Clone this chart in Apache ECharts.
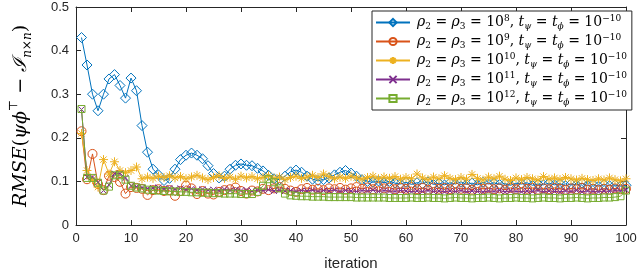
<!DOCTYPE html>
<html><head><meta charset="utf-8">
<script src="https://cdn.jsdelivr.net/npm/echarts@6/dist/echarts.min.js"></script>
<style>html,body{margin:0;padding:0;background:#fff}#c{width:640px;height:276px}</style>
</head><body><div id="c"></div>
<script>
const iterations = [1,2,3,4,5,6,7,8,9,10,11,12,13,14,15,16,17,18,19,20,21,22,23,24,25,26,27,28,29,30,31,32,33,34,35,36,37,38,39,40,41,42,43,44,45,46,47,48,49,50,51,52,53,54,55,56,57,58,59,60,61,62,63,64,65,66,67,68,69,70,71,72,73,74,75,76,77,78,79,80,81,82,83,84,85,86,87,88,89,90,91,92,93,94,95,96,97,98,99,100];
const rho1e8 = [0.430,0.367,0.300,0.262,0.300,0.335,0.345,0.320,0.291,0.337,0.308,0.228,0.167,0.128,0.115,0.102,0.107,0.128,0.150,0.160,0.165,0.160,0.152,0.136,0.118,0.108,0.112,0.128,0.137,0.140,0.137,0.136,0.130,0.124,0.114,0.106,0.104,0.112,0.122,0.126,0.121,0.112,0.105,0.102,0.104,0.108,0.115,0.121,0.125,0.119,0.112,0.104,0.100,0.098,0.101,0.097,0.100,0.096,0.094,0.098,0.093,0.097,0.095,0.099,0.093,0.096,0.092,0.097,0.094,0.099,0.093,0.096,0.092,0.098,0.094,0.097,0.093,0.095,0.091,0.096,0.094,0.097,0.091,0.094,0.092,0.096,0.092,0.095,0.090,0.094,0.092,0.096,0.090,0.093,0.089,0.093,0.090,0.092,0.089,0.091];
const rho1e9 = [0.215,0.105,0.163,0.094,0.080,0.113,0.110,0.099,0.072,0.087,0.085,0.083,0.069,0.080,0.082,0.078,0.080,0.067,0.078,0.090,0.084,0.071,0.078,0.072,0.070,0.076,0.080,0.082,0.086,0.078,0.072,0.079,0.077,0.083,0.080,0.084,0.087,0.083,0.079,0.076,0.082,0.085,0.081,0.083,0.080,0.084,0.082,0.085,0.081,0.084,0.087,0.083,0.086,0.082,0.088,0.084,0.086,0.082,0.085,0.083,0.087,0.082,0.085,0.081,0.086,0.083,0.085,0.082,0.086,0.083,0.084,0.081,0.086,0.083,0.085,0.082,0.084,0.081,0.085,0.082,0.086,0.083,0.085,0.081,0.084,0.082,0.085,0.083,0.081,0.084,0.082,0.085,0.081,0.083,0.080,0.083,0.081,0.084,0.082,0.083];
const rho1e10 = [0.210,0.125,0.104,0.087,0.150,0.117,0.145,0.125,0.120,0.125,0.133,0.106,0.110,0.107,0.112,0.109,0.113,0.108,0.111,0.106,0.110,0.114,0.108,0.104,0.109,0.113,0.107,0.110,0.105,0.112,0.108,0.111,0.106,0.109,0.113,0.107,0.110,0.104,0.109,0.112,0.107,0.110,0.114,0.109,0.117,0.111,0.106,0.110,0.107,0.112,0.108,0.105,0.109,0.112,0.106,0.110,0.107,0.111,0.105,0.109,0.106,0.117,0.108,0.104,0.110,0.106,0.113,0.107,0.104,0.109,0.105,0.116,0.107,0.103,0.110,0.106,0.112,0.105,0.102,0.108,0.104,0.109,0.106,0.103,0.111,0.105,0.108,0.104,0.109,0.106,0.103,0.107,0.104,0.102,0.106,0.103,0.108,0.104,0.101,0.106];
const rho1e11 = [0.265,0.110,0.110,0.098,0.079,0.092,0.118,0.118,0.108,0.090,0.088,0.086,0.084,0.085,0.086,0.083,0.085,0.082,0.084,0.081,0.083,0.080,0.082,0.080,0.081,0.079,0.082,0.079,0.081,0.079,0.080,0.078,0.080,0.079,0.081,0.078,0.080,0.078,0.079,0.077,0.079,0.078,0.080,0.077,0.079,0.078,0.080,0.077,0.079,0.078,0.077,0.079,0.078,0.080,0.077,0.079,0.078,0.077,0.079,0.078,0.076,0.078,0.077,0.079,0.077,0.078,0.076,0.078,0.077,0.079,0.076,0.078,0.077,0.076,0.078,0.077,0.079,0.076,0.078,0.077,0.076,0.078,0.077,0.079,0.076,0.078,0.077,0.076,0.078,0.077,0.079,0.076,0.078,0.077,0.076,0.078,0.077,0.079,0.078,0.081];
const rho1e12 = [0.266,0.108,0.108,0.097,0.079,0.088,0.114,0.114,0.104,0.090,0.086,0.084,0.081,0.080,0.079,0.078,0.077,0.077,0.076,0.076,0.075,0.075,0.074,0.074,0.073,0.073,0.072,0.072,0.072,0.071,0.071,0.071,0.076,0.090,0.105,0.098,0.084,0.072,0.068,0.067,0.066,0.066,0.065,0.065,0.065,0.064,0.064,0.064,0.064,0.064,0.063,0.063,0.063,0.063,0.063,0.063,0.062,0.062,0.062,0.062,0.063,0.062,0.062,0.063,0.062,0.062,0.061,0.062,0.063,0.062,0.062,0.061,0.062,0.062,0.063,0.062,0.061,0.062,0.062,0.063,0.062,0.062,0.061,0.062,0.063,0.062,0.062,0.061,0.062,0.062,0.063,0.062,0.061,0.062,0.062,0.063,0.063,0.064,0.066,0.079];
const exponents = ['8','9','10','11','12'];
const xTicks = [0,10,20,30,40,50,60,70,80,90,100];
const yTicks = [0,0.1,0.2,0.3,0.4,0.5];

const colors = ['#0072BD','#D95319','#EDB120','#7E2F8E','#77AC30'];
const symbols = ['diamond','circle',
  'path://M0,-10L0,10M-10,0L10,0M-7,-7L7,7M-7,7L7,-7',
  'path://M-10,-10L10,10M-10,10L10,-10',
  'rect'];
const sizes = [10,9,9,6,7];
const allData = [rho1e8,rho1e9,rho1e10,rho1e11,rho1e12];
const names = exponents.map(e => 's' + e);

const chart = echarts.init(document.getElementById('c'), null, {renderer:'canvas'});
const axisCol = '#262626';
const series = allData.map((arr,k) => ({
  name: names[k],
  type: 'line',
  data: iterations.map((it,i) => [it, arr[i]]),
  symbol: symbols[k],
  symbolSize: sizes[k],
  showSymbol: true,
  animation: false,
  lineStyle: {color: colors[k], width: 1},
  itemStyle: {color: 'rgba(0,0,0,0)', borderColor: colors[k], borderWidth: 1},
  emphasis: {disabled: true},
  z: 2 + k
}));

const mathFont = '"DejaVu Serif", "Liberation Serif", serif';
const rich = {
  i: {fontFamily: mathFont, fontStyle: 'italic', fontSize: 14, color: '#000', lineHeight: 17, verticalAlign: 'middle'},
  n: {fontFamily: mathFont, fontSize: 14, color: '#000', lineHeight: 17, verticalAlign: 'middle'},
  sub: {fontFamily: mathFont, fontSize: 9, color: '#000', lineHeight: 17, verticalAlign: 'bottom'},
  subi: {fontFamily: mathFont, fontStyle: 'italic', fontSize: 9, color: '#000', lineHeight: 17, verticalAlign: 'bottom'},
  sup: {fontFamily: mathFont, fontSize: 9, color: '#000', lineHeight: 17, verticalAlign: 'top'}
};

chart.setOption({
  backgroundColor: '#fff',
  animation: false,
  grid: {left: 66, right: 14, top: 7, bottom: 50, containLabel: false},
  legend: {
    orient: 'vertical', left: 372, top: 11,
    padding: [3, 5, 3, 3], itemGap: 2,
    itemWidth: 34, itemHeight: 9,
    backgroundColor: '#fff', borderColor: '#262626', borderWidth: 1,
    data: names,
    formatter: function(name){
      const e = exponents[names.indexOf(name)];
      return '{i|ρ}{sub|2}{n| = }{i|ρ}{sub|3}{n| = 10}{sup|' + e + '}{n|, }{i|t}{subi|ψ}{n| = }{i|t}{subi|ϕ}{n| = 10}{sup|−10}';
    },
    textStyle: {rich: rich, padding: [0,0,0,2]}
  },
  xAxis: [{
    type: 'value', min: xTicks[0], max: xTicks[xTicks.length-1], interval: xTicks[1]-xTicks[0],
    position: 'bottom',
    name: 'iteration', nameLocation: 'middle', nameGap: 31,
    nameTextStyle: {fontFamily: '"Liberation Sans", Arial, sans-serif', fontSize: 15, color: axisCol},
    axisLine: {show: true, onZero: false, lineStyle: {color: axisCol, width: 1}},
    axisTick: {show: true, inside: true, length: 5, lineStyle: {color: axisCol}},
    axisLabel: {fontFamily: '"Liberation Sans", Arial, sans-serif', fontSize: 13, color: axisCol, margin: 7},
    splitLine: {show: false}
  },{
    type: 'value', min: xTicks[0], max: xTicks[xTicks.length-1], interval: xTicks[1]-xTicks[0],
    position: 'top',
    axisLine: {show: true, onZero: false, lineStyle: {color: axisCol, width: 1}},
    axisTick: {show: true, inside: true, length: 5, lineStyle: {color: axisCol}},
    axisLabel: {show: false}, splitLine: {show: false}
  }],
  yAxis: [{
    type: 'value', min: yTicks[0], max: yTicks[yTicks.length-1], interval: 0.1,
    position: 'left',
    name: '{i|RMSE}{n|(}{i|ψϕ}{sup|⊤}{n| − }{cal|ℐ}{subi|n×n}{n|)}',
    nameLocation: 'middle', nameGap: 42, nameRotate: 90,
    nameTextStyle: {
      rich: {
        i: {fontFamily: mathFont, fontStyle: 'italic', fontSize: 19, color: '#000', lineHeight: 26, verticalAlign: 'middle'},
        n: {fontFamily: mathFont, fontSize: 19, color: '#000', lineHeight: 26, verticalAlign: 'middle'},
        cal: {fontFamily: mathFont, fontStyle: 'italic', fontSize: 19, color: '#000', lineHeight: 26, verticalAlign: 'middle'},
        sup: {fontFamily: mathFont, fontSize: 12, color: '#000', lineHeight: 26, verticalAlign: 'top'},
        subi: {fontFamily: mathFont, fontStyle: 'italic', fontSize: 12, color: '#000', lineHeight: 26, verticalAlign: 'bottom'}
      }
    },
    axisLine: {show: true, onZero: false, lineStyle: {color: axisCol, width: 1}},
    axisTick: {show: true, inside: true, length: 5, lineStyle: {color: axisCol}},
    axisLabel: {fontFamily: '"Liberation Sans", Arial, sans-serif', fontSize: 13, color: axisCol, margin: 7},
    splitLine: {show: false}
  },{
    type: 'value', min: yTicks[0], max: yTicks[yTicks.length-1], interval: 0.1,
    position: 'right',
    axisLine: {show: true, onZero: false, lineStyle: {color: axisCol, width: 1}},
    axisTick: {show: true, inside: true, length: 5, lineStyle: {color: axisCol}},
    axisLabel: {show: false}, splitLine: {show: false}
  }],
  series: series
});
</script></body></html>
